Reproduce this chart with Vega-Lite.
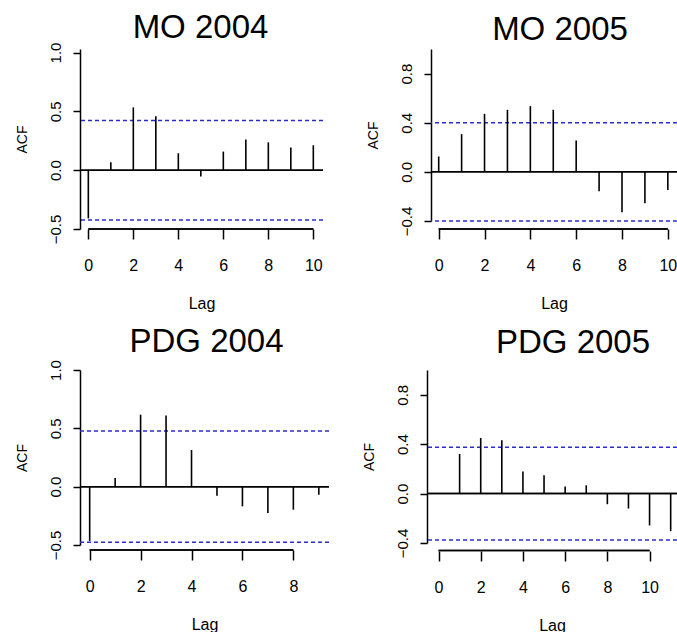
{
  "$schema": "https://vega.github.io/schema/vega-lite/v6.json",
  "background": "white",
  "padding": {"left": 15, "top": 12, "right": 0, "bottom": 0},
  "config": {
    "font": "Liberation Sans",
    "view": {"stroke": null},
    "title": {"fontSize": 33, "fontWeight": "normal", "font": "Liberation Sans", "color": "black", "anchor": "middle", "frame": "group", "baseline": "alphabetic"},
    "axis": {"domainColor": "black", "tickColor": "black", "labelColor": "black", "titleColor": "black", "domainWidth": 1.5, "tickWidth": 1.5, "grid": false, "labelFont": "Liberation Sans", "titleFont": "Liberation Sans", "titleFontWeight": "normal", "labelFlush": false, "labelOverlap": false},
    "axisX": {"domain": false, "tickSize": 10, "labelFontSize": 16, "labelPadding": 18, "titleFontSize": 16, "titlePadding": 22},
    "axisY": {"tickSize": 7, "labelFontSize": 15, "labelAngle": 270, "labelAlign": "center", "labelBaseline": "bottom", "labelPadding": 10, "titleFontSize": 14, "titlePadding": 19}
  },
  "datasets": {
    "mo2004": [
      {"lag": 0, "acf": -0.41}, {"lag": 1, "acf": 0.068}, {"lag": 2, "acf": 0.534}, {"lag": 3, "acf": 0.458},
      {"lag": 4, "acf": 0.144}, {"lag": 5, "acf": -0.054}, {"lag": 6, "acf": 0.158}, {"lag": 7, "acf": 0.26},
      {"lag": 8, "acf": 0.237}, {"lag": 9, "acf": 0.192}, {"lag": 10, "acf": 0.212}
    ],
    "mo2004_ci": [{"bound": 0.423}, {"bound": -0.423}],
    "mo2005": [
      {"lag": 0, "acf": 0.125}, {"lag": 1, "acf": 0.307}, {"lag": 2, "acf": 0.472}, {"lag": 3, "acf": 0.505},
      {"lag": 4, "acf": 0.535}, {"lag": 5, "acf": 0.505}, {"lag": 6, "acf": 0.255}, {"lag": 7, "acf": -0.157},
      {"lag": 8, "acf": -0.328}, {"lag": 9, "acf": -0.255}, {"lag": 10, "acf": -0.147}
    ],
    "mo2005_ci": [{"bound": 0.40}, {"bound": -0.40}],
    "pdg2004": [
      {"lag": 0, "acf": -0.465}, {"lag": 1, "acf": 0.074}, {"lag": 2, "acf": 0.617}, {"lag": 3, "acf": 0.609},
      {"lag": 4, "acf": 0.314}, {"lag": 5, "acf": -0.077}, {"lag": 6, "acf": -0.169}, {"lag": 7, "acf": -0.226},
      {"lag": 8, "acf": -0.197}, {"lag": 9, "acf": -0.069}
    ],
    "pdg2004_ci": [{"bound": 0.477}, {"bound": -0.477}],
    "pdg2005": [
      {"lag": 1, "acf": 0.32}, {"lag": 2, "acf": 0.45}, {"lag": 3, "acf": 0.431}, {"lag": 4, "acf": 0.178},
      {"lag": 5, "acf": 0.148}, {"lag": 6, "acf": 0.057}, {"lag": 7, "acf": 0.067}, {"lag": 8, "acf": -0.086},
      {"lag": 9, "acf": -0.121}, {"lag": 10, "acf": -0.258}, {"lag": 11, "acf": -0.304}
    ],
    "pdg2005_ci": [{"bound": 0.375}, {"bound": -0.375}]
  },
  "spacing": 14,
  "vconcat": [
    {
      "spacing": 41,
      "hconcat": [
        {
          "width": 243, "height": 180,
          "title": {"text": "MO 2004", "offset": 9, "dx": -1, "dy": 12},
          "layer": [
            {"data": {"name": "mo2004_ci"}, "mark": {"type": "rule", "color": "#2b2bd0", "strokeDash": [4, 3], "strokeWidth": 1.5},
             "encoding": {"y": {"field": "bound", "type": "quantitative", "title": "ACF"}}},
            {"data": {"name": "mo2004_ci"}, "mark": {"type": "rule", "color": "black", "strokeWidth": 1.5},
             "encoding": {"y": {"datum": 0, "type": "quantitative", "title": "ACF"}}},
            {"data": {"name": "mo2004_ci"}, "mark": {"type": "rule", "color": "black", "strokeWidth": 1.5},
             "encoding": {"x": {"datum": 0, "type": "quantitative", "title": "Lag"}, "x2": {"datum": 10}, "y": {"datum": -0.5, "type": "quantitative", "title": "ACF"}}},
            {"data": {"name": "mo2004"}, "mark": {"type": "rule", "color": "black", "strokeWidth": 1.6},
             "encoding": {
               "x": {"field": "lag", "type": "quantitative", "title": "Lag", "scale": {"domain": [-0.37, 10.43], "nice": false, "zero": false}, "axis": {"values": [0, 2, 4, 6, 8, 10], "offset": 0}},
               "y": {"field": "acf", "type": "quantitative", "title": "ACF", "scale": {"domain": [-0.5, 1.03], "nice": false, "zero": false}, "axis": {"values": [-0.5, 0, 0.5, 1.0], "format": ".1f"}},
               "y2": {"datum": 0}
             }}
          ]
        },
        {
          "width": 246, "height": 172,
          "title": {"text": "MO 2005", "offset": 9, "dx": 6, "dy": 7},
          "layer": [
            {"data": {"name": "mo2005_ci"}, "mark": {"type": "rule", "color": "#2b2bd0", "strokeDash": [4, 3], "strokeWidth": 1.5},
             "encoding": {"y": {"field": "bound", "type": "quantitative", "title": "ACF"}}},
            {"data": {"name": "mo2005_ci"}, "mark": {"type": "rule", "color": "black", "strokeWidth": 1.5},
             "encoding": {"y": {"datum": 0, "type": "quantitative", "title": "ACF"}}},
            {"data": {"name": "mo2005_ci"}, "mark": {"type": "rule", "color": "black", "strokeWidth": 1.5},
             "encoding": {"x": {"datum": 0, "type": "quantitative", "title": "Lag"}, "x2": {"datum": 10}, "y": {"datum": -0.465, "type": "quantitative", "title": "ACF"}}},
            {"data": {"name": "mo2005"}, "mark": {"type": "rule", "color": "black", "strokeWidth": 1.6},
             "encoding": {
               "x": {"field": "lag", "type": "quantitative", "title": "Lag", "scale": {"domain": [-0.336, 10.4], "nice": false, "zero": false}, "axis": {"values": [0, 2, 4, 6, 8, 10], "offset": 8}},
               "y": {"field": "acf", "type": "quantitative", "title": "ACF", "scale": {"domain": [-0.4, 1.0], "nice": false, "zero": false},
                     "axis": {"values": [-0.4, -0.2, 0, 0.2, 0.4, 0.6, 0.8, 1.0], "labelExpr": "abs(round(datum.value * 10)) % 4 == 0 ? format(datum.value, '.1f') : ''"}},
               "y2": {"datum": 0}
             }}
          ]
        }
      ]
    },
    {
      "spacing": 32,
      "hconcat": [
        {
          "width": 249, "height": 175,
          "title": {"text": "PDG 2004", "offset": 18, "dx": 2, "dy": 17},
          "layer": [
            {"data": {"name": "pdg2004_ci"}, "mark": {"type": "rule", "color": "#2b2bd0", "strokeDash": [4, 3], "strokeWidth": 1.5},
             "encoding": {"y": {"field": "bound", "type": "quantitative", "title": "ACF"}}},
            {"data": {"name": "pdg2004_ci"}, "mark": {"type": "rule", "color": "black", "strokeWidth": 1.5},
             "encoding": {"y": {"datum": 0, "type": "quantitative", "title": "ACF"}}},
            {"data": {"name": "pdg2004_ci"}, "mark": {"type": "rule", "color": "black", "strokeWidth": 1.5},
             "encoding": {"x": {"datum": 0, "type": "quantitative", "title": "Lag"}, "x2": {"datum": 8}, "y": {"datum": -0.543, "type": "quantitative", "title": "ACF"}}},
            {"data": {"name": "pdg2004"}, "mark": {"type": "rule", "color": "black", "strokeWidth": 1.6},
             "encoding": {
               "x": {"field": "lag", "type": "quantitative", "title": "Lag", "scale": {"domain": [-0.38, 9.4], "nice": false, "zero": false}, "axis": {"values": [0, 2, 4, 6, 8], "offset": 5}},
               "y": {"field": "acf", "type": "quantitative", "title": "ACF", "scale": {"domain": [-0.5, 1.0], "nice": false, "zero": false}, "axis": {"values": [-0.5, 0, 0.5, 1.0], "format": ".1f"}},
               "y2": {"datum": 0}
             }}
          ]
        },
        {
          "width": 250, "height": 173,
          "title": {"text": "PDG 2005", "offset": 18, "dx": 21, "dy": 8},
          "layer": [
            {"data": {"name": "pdg2005_ci"}, "mark": {"type": "rule", "color": "#2b2bd0", "strokeDash": [4, 3], "strokeWidth": 1.5},
             "encoding": {"y": {"field": "bound", "type": "quantitative", "title": "ACF"}}},
            {"data": {"name": "pdg2005_ci"}, "mark": {"type": "rule", "color": "black", "strokeWidth": 1.5},
             "encoding": {"y": {"datum": 0, "type": "quantitative", "title": "ACF"}}},
            {"data": {"name": "pdg2005_ci"}, "mark": {"type": "rule", "color": "black", "strokeWidth": 1.5},
             "encoding": {"x": {"datum": 0, "type": "quantitative", "title": "Lag"}, "x2": {"datum": 10}, "y": {"datum": -0.461, "type": "quantitative", "title": "ACF"}}},
            {"data": {"name": "pdg2005"}, "mark": {"type": "rule", "color": "black", "strokeWidth": 1.6},
             "encoding": {
               "x": {"field": "lag", "type": "quantitative", "title": "Lag", "scale": {"domain": [-0.545, 11.3], "nice": false, "zero": false}, "axis": {"values": [0, 2, 4, 6, 8, 10], "offset": 8}},
               "y": {"field": "acf", "type": "quantitative", "title": "ACF", "scale": {"domain": [-0.4, 1.0], "nice": false, "zero": false},
                     "axis": {"values": [-0.4, -0.2, 0, 0.2, 0.4, 0.6, 0.8, 1.0], "labelExpr": "abs(round(datum.value * 10)) % 4 == 0 ? format(datum.value, '.1f') : ''"}},
               "y2": {"datum": 0}
             }}
          ]
        }
      ]
    }
  ]
}
